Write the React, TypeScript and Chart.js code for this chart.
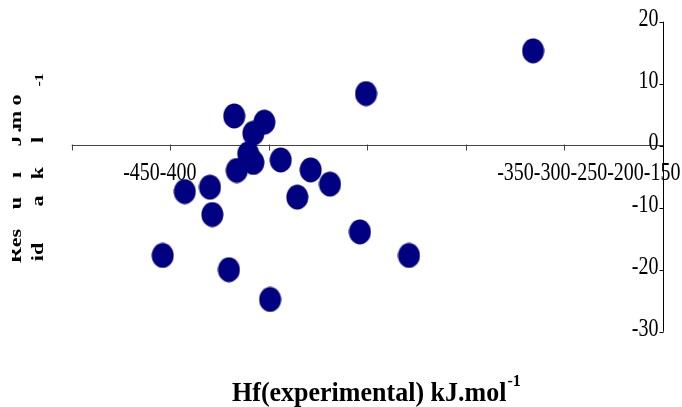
import { useEffect, useRef } from "react";
import { Chart, registerables } from "chart.js";

Chart.register(...registerables);

// Data
const hfExperimental = [
  -215.8, -300.6, -367.5, -352.2, -357.8, -360.4, -357.8, -343.9, -366.2, -328.7,
  -318.9, -392.6, -379.8, -335.5, -378.6, -303.7, -278.8, -403.8, -370.2, -349.3,
];
const residual = [
  15.3, 8.4, 4.8, 3.8, 2.0, -1.3, -2.7, -2.3, -4.0, -3.9,
  -6.2, -7.4, -6.7, -8.3, -11.1, -13.9, -17.7, -17.7, -20.0, -24.8,
];
const xTicks = [-450, -400, -350, -300, -250, -200, -150];
const yTicks = [20, 10, 0, -10, -20, -30];
const xLabelGroups = [
  ["-450", "-400"],
  ["-350", "-300", "-250", "-200", "-150"],
];
const xTitle = "Hf(experimental) kJ.mol";
const xTitleSup = "-1";
// y title characters as they appear (two interleaved columns)
const yTitleCol1 = ["Res", "u", "i", "J", ".", "m", "o"];
const yTitleCol2 = ["id", "a", "k", "l", "-1"];

const SERIF = "'Liberation Serif', 'DejaVu Serif', serif";

function makeDot(): HTMLCanvasElement {
  const c = document.createElement("canvas");
  c.width = 23;
  c.height = 26;
  const g = c.getContext("2d")!;
  g.fillStyle = "#000080";
  g.beginPath();
  g.ellipse(11.5, 13, 11, 12.5, 0, 0, Math.PI * 2);
  g.fill();
  return c;
}

function stretchedText(
  ctx: CanvasRenderingContext2D,
  text: string,
  x: number,
  y: number,
  font: string,
  align: CanvasTextAlign,
  sy: number,
  baseline: CanvasTextBaseline = "middle"
) {
  ctx.save();
  ctx.translate(x, y);
  ctx.scale(1, sy);
  ctx.font = font;
  ctx.textAlign = align;
  ctx.textBaseline = baseline;
  ctx.fillStyle = "#000";
  ctx.fillText(text, 0, 0);
  ctx.restore();
}

const axesPlugin = {
  id: "excelAxes",
  beforeDatasetsDraw(chart: any) {
    const ctx: CanvasRenderingContext2D = chart.ctx;
    const xs = chart.scales.x;
    const ys = chart.scales.y;
    const y0 = Math.round(ys.getPixelForValue(0)) - 0.5;
    const xr = Math.round(xs.getPixelForValue(-150)) + 0.5;
    ctx.save();
    // x axis
    ctx.strokeStyle = "#444";
    ctx.lineWidth = 1;
    ctx.beginPath();
    ctx.moveTo(xs.getPixelForValue(-450), y0);
    ctx.lineTo(xr, y0);
    for (const t of xTicks) {
      const px = Math.round(xs.getPixelForValue(t)) + 0.5;
      ctx.moveTo(px, y0 - 1);
      ctx.lineTo(px, y0 + 5);
    }
    ctx.stroke();
    // y axis
    ctx.strokeStyle = "#000";
    ctx.beginPath();
    ctx.moveTo(xr, ys.getPixelForValue(20));
    ctx.lineTo(xr, ys.getPixelForValue(-30));
    for (const t of yTicks) {
      const py = Math.round(ys.getPixelForValue(t)) + 0.5;
      ctx.moveTo(xr - 4, py);
      ctx.lineTo(xr, py);
    }
    ctx.stroke();
    ctx.restore();

    const tickFont = `20px ${SERIF}`;
    for (const t of yTicks) {
      stretchedText(ctx, String(t), xr - 5, ys.getPixelForValue(t) - 3, tickFont, "right", 1.3);
    }
    const labY = y0 + 28;
    stretchedText(ctx, xLabelGroups[0].join(""), xs.getPixelForValue(-400) - 47, labY, tickFont, "left", 1.3);
    stretchedText(ctx, xLabelGroups[1].join(""), xr + 17, labY, tickFont, "right", 1.3);

    // x title
    const titleFont = `bold 26px ${SERIF}`;
    const supFont = `bold 16px ${SERIF}`;
    ctx.save();
    ctx.font = titleFont;
    const w = ctx.measureText(xTitle).width;
    ctx.restore();
    const left = 232;
    stretchedText(ctx, xTitle, left, 401, titleFont, "left", 1.05, "alphabetic");
    stretchedText(ctx, xTitleSup, left + w + 1, 386, supFont, "left", 1.05, "alphabetic");

    // y title (rotated characters, two columns)
    const col1Y = [246, 203, 175, 141, 130, 120, 100];
    const col2Y = [252, 201, 173, 140, 80];
    ctx.save();
    ctx.beginPath();
    ctx.rect(12, 0, 60, chart.height);
    ctx.clip();
    ctx.fillStyle = "#000";
    ctx.textAlign = "center";
    ctx.textBaseline = "alphabetic";
    const drawCol = (chars: string[], ys2: number[], x: number) => {
      chars.forEach((ch, i) => {
        ctx.save();
        ctx.translate(x, ys2[i]);
        ctx.rotate(-Math.PI / 2);
        ctx.scale(1.3, 1);
        ctx.font = ch === "-1" ? `bold 12px ${SERIF}` : `bold 17px ${SERIF}`;
        ctx.fillText(ch, 0, 0);
        ctx.restore();
      });
    };
    drawCol(yTitleCol1, col1Y, 21);
    drawCol(yTitleCol2, col2Y, 43);
    ctx.restore();
  },
};

export default function App() {
  const ref = useRef<HTMLCanvasElement | null>(null);
  useEffect(() => {
    if (!ref.current) return;
    const dot = makeDot();
    const chart = new Chart(ref.current, {
      type: "scatter",
      data: {
        datasets: [
          {
            label: "Residual",
            data: hfExperimental.map((x, i) => ({ x, y: residual[i] })),
            pointStyle: dot as any,
            backgroundColor: "#000080",
            borderColor: "#000080",
          },
        ],
      },
      options: {
        animation: false,
        responsive: false,
        devicePixelRatio: 1,
        layout: { padding: { left: 71.7, right: 19.3, top: 21.7, bottom: 75.3 } },
        plugins: { legend: { display: false }, tooltip: { enabled: false }, title: { display: false } },
        scales: {
          x: { type: "linear", min: -450, max: -150, display: false },
          y: { type: "linear", min: -30, max: 20, display: false },
        },
        elements: { point: { radius: 12 } },
        clip: false as any,
      },
      plugins: [axesPlugin],
    });
    return () => chart.destroy();
  }, []);
  return (
    <div style={{ position: "fixed", left: 0, top: 0, width: 682, height: 407, background: "#fff" }}>
      <canvas ref={ref} width={682} height={407} style={{ width: 682, height: 407 }} />
    </div>
  );
}
